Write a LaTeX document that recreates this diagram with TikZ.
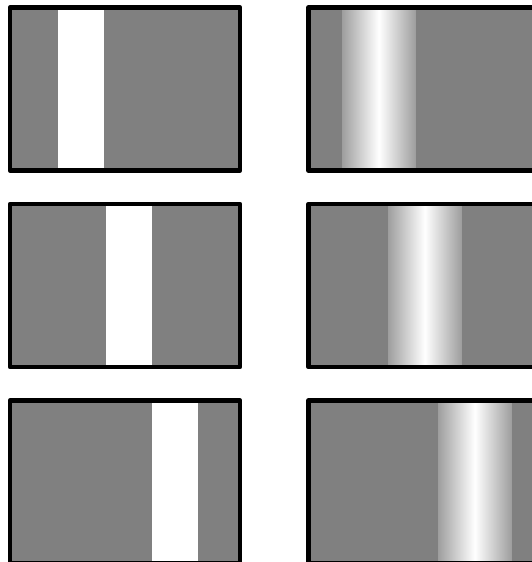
\documentclass[tikz,border=0pt]{standalone}
\begin{document}
\begin{tikzpicture}[x=1pt,y=-1pt,
  frame/.style={line width=4.5pt,line join=round},
  bgfill/.style={fill=black!50}]
\useasboundingbox (0,0) rectangle (532,562);
\clip (0,0) rectangle (532,562);
% Left column: sharp white bars
\foreach \i/\bx in {0/58,1/106,2/152} {
  \pgfmathsetmacro{\y}{7.5+\i*196.5}
  \fill[bgfill] (10,\y) rectangle (240,\y+163);
  \fill[white] (\bx,\y) rectangle (\bx+46,\y+163);
  \draw[frame] (10,\y) rectangle (240,\y+163);
}
% Right column: shaded bars, cut by the right edge
\foreach \i/\bx in {0/342,1/388,2/438} {
  \pgfmathsetmacro{\y}{7.5+\i*196.5}
  \fill[bgfill] (308.5,\y) rectangle (545,\y+163);
  \shade[left color=black!38,right color=black!38,middle color=white] (\bx,\y) rectangle (\bx+73.5,\y+163);
  \draw[frame] (308.5,\y) rectangle (545,\y+163);
}
\end{tikzpicture}
\end{document}
